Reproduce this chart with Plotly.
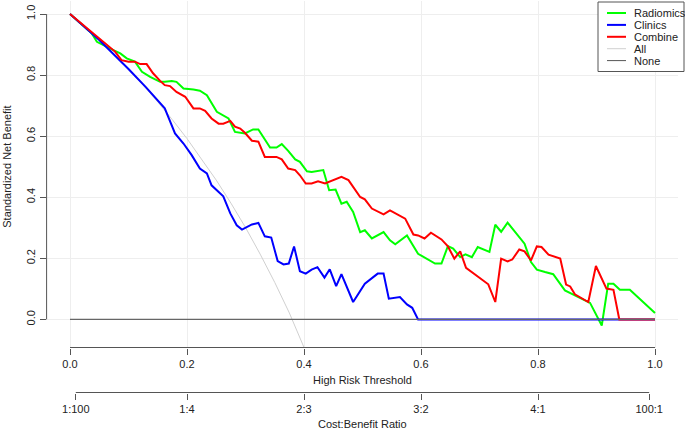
import plotly.graph_objects as go

# ---- data ----
radiomics_t = [0, 0.030, 0.037, 0.046, 0.066, 0.074, 0.086, 0.097, 0.111, 0.123, 0.137, 0.154, 0.162, 0.174, 0.182,
               0.194, 0.211, 0.222, 0.234, 0.251, 0.271, 0.282, 0.299, 0.313, 0.322, 0.342, 0.353, 0.362, 0.373,
               0.385, 0.393, 0.405, 0.413, 0.433, 0.443, 0.454, 0.464, 0.473, 0.484, 0.496, 0.504, 0.516, 0.536,
               0.547, 0.556, 0.576, 0.595, 0.624, 0.635, 0.646, 0.655, 0.667, 0.676, 0.687, 0.697, 0.717, 0.727,
               0.737, 0.748, 0.777, 0.788, 0.798, 0.812, 0.826, 0.846, 0.866, 0.889, 0.909, 0.920, 0.929, 0.940,
               0.957, 1.0]
radiomics_v = [1.0, 0.950, 0.937, 0.909, 0.888, 0.882, 0.871, 0.855, 0.844, 0.811, 0.794, 0.778, 0.778, 0.781, 0.778,
               0.756, 0.753, 0.749, 0.734, 0.680, 0.658, 0.614, 0.609, 0.622, 0.622, 0.563, 0.563, 0.574, 0.552,
               0.524, 0.516, 0.485, 0.483, 0.489, 0.423, 0.425, 0.379, 0.385, 0.352, 0.286, 0.292, 0.265, 0.286,
               0.259, 0.246, 0.275, 0.215, 0.183, 0.183, 0.240, 0.232, 0.204, 0.213, 0.204, 0.237, 0.221, 0.310,
               0.287, 0.317, 0.248, 0.188, 0.163, 0.155, 0.148, 0.095, 0.075, 0.054, -0.020, 0.117, 0.117, 0.097,
               0.097, 0.021]

clinics_t = [0, 0.05, 0.10, 0.13, 0.162, 0.1795, 0.194, 0.208, 0.222, 0.234, 0.242, 0.254, 0.262, 0.274, 0.285,
             0.294, 0.311, 0.322, 0.333, 0.344, 0.355, 0.365, 0.374, 0.383, 0.393, 0.403, 0.413, 0.423, 0.435,
             0.444, 0.455, 0.464, 0.484, 0.504, 0.526, 0.536, 0.545, 0.564, 0.576, 0.585, 0.595, 1.0]
clinics_v = [1.0, 0.915, 0.820, 0.760, 0.691, 0.609, 0.576, 0.538, 0.494, 0.478, 0.439, 0.417, 0.403, 0.347, 0.308,
             0.294, 0.311, 0.316, 0.272, 0.268, 0.191, 0.180, 0.183, 0.239, 0.158, 0.150, 0.163, 0.171, 0.137,
             0.164, 0.109, 0.148, 0.057, 0.117, 0.150, 0.150, 0.068, 0.073, 0.049, 0.038, 0.0, 0.0]

combine_t = [0, 0.066, 0.077, 0.088, 0.100, 0.111, 0.120, 0.131, 0.142, 0.154, 0.162, 0.171, 0.182, 0.197, 0.211,
             0.222, 0.231, 0.242, 0.254, 0.262, 0.274, 0.282, 0.291, 0.299, 0.311, 0.322, 0.333, 0.353, 0.362,
             0.373, 0.385, 0.393, 0.403, 0.413, 0.424, 0.436, 0.450, 0.464, 0.476, 0.496, 0.504, 0.516, 0.536,
             0.547, 0.573, 0.587, 0.595, 0.606, 0.617, 0.635, 0.646, 0.657, 0.667, 0.677, 0.715, 0.727, 0.737,
             0.748, 0.756, 0.768, 0.777, 0.788, 0.798, 0.806, 0.818, 0.838, 0.848, 0.855, 0.863, 0.886, 0.899,
             0.917, 0.929, 0.939, 1.0]
combine_v = [1.0, 0.893, 0.877, 0.849, 0.844, 0.844, 0.836, 0.836, 0.806, 0.781, 0.767, 0.764, 0.745, 0.729, 0.691,
             0.691, 0.683, 0.658, 0.641, 0.641, 0.650, 0.631, 0.625, 0.611, 0.585, 0.582, 0.532, 0.532, 0.524,
             0.494, 0.489, 0.472, 0.445, 0.445, 0.452, 0.445, 0.456, 0.467, 0.456, 0.401, 0.393, 0.363, 0.344,
             0.357, 0.330, 0.278, 0.275, 0.265, 0.284, 0.262, 0.239, 0.199, 0.223, 0.169, 0.115, 0.057, 0.199,
             0.190, 0.196, 0.229, 0.223, 0.193, 0.239, 0.237, 0.212, 0.199, 0.114, 0.108, 0.082, 0.057, 0.175,
             0.101, 0.097, 0.0, 0.0]

all_t = [0, 0.025, 0.05, 0.075, 0.10, 0.125, 0.15, 0.175, 0.20, 0.225, 0.25, 0.275, 0.30, 0.325, 0.35, 0.375,
         0.40, 0.42]
all_v = [1.0, 0.958, 0.914, 0.868, 0.819, 0.767, 0.712, 0.654, 0.592, 0.526, 0.456, 0.381, 0.301, 0.214, 0.121,
         0.021, -0.088, -0.182]

none_t = [0, 1.0]
none_v = [0, 0]

x_tick_vals = [0, 0.2, 0.4, 0.6, 0.8, 1.0]
x_tick_text = ["0.0", "0.2", "0.4", "0.6", "0.8", "1.0"]
cb_tick_vals = [1 / 101, 0.2, 0.4, 0.6, 0.8, 100 / 101]
cb_tick_text = ["1:100", "1:4", "2:3", "3:2", "4:1", "100:1"]
y_tick_vals = [0, 0.2, 0.4, 0.6, 0.8, 1.0]
y_tick_text = ["0.0", "0.2", "0.4", "0.6", "0.8", "1.0"]

legend_names = ["Radiomics", "Clinics", "Combine", "All", "None"]
legend_colors = ["#00FF00", "#0000FF", "#FF0000", "#D0D0D0", "#555555"]
legend_widths = [2, 2, 2, 1, 1]

FONT = "Liberation Sans, Arial, Helvetica, sans-serif"
AX = "#555555"
TXT = "#222222"
W, H = 685.0, 431.0


def px(xp):
    return xp / W


def py(yp):
    return (H - yp) / H


fig = go.Figure()
fig.add_trace(go.Scatter(x=none_t, y=none_v, mode="lines", name="None", xaxis="x2",
                         line=dict(color="#666666", width=1.2)))
fig.add_trace(go.Scatter(x=all_t, y=all_v, mode="lines", name="All",
                         line=dict(color="#D0D0D0", width=1)))
fig.add_trace(go.Scatter(x=radiomics_t, y=radiomics_v, mode="lines", name="Radiomics",
                         line=dict(color="#00FF00", width=2)))
fig.add_trace(go.Scatter(x=clinics_t, y=clinics_v, mode="lines", name="Clinics",
                         line=dict(color="#0000FF", width=2)))
fig.add_trace(go.Scatter(x=combine_t, y=combine_v, mode="lines", name="Combine",
                         line=dict(color="#FF0000", width=2)))

ybot = py(347.5)
ytop = py(1.2)
cbpos = py(392.5)
xr = [-0.04, 1.04]

shapes = [
    dict(type="line", xref="x", yref="paper", x0=0, x1=1, y0=ybot, y1=ybot,
         line=dict(color=AX, width=1)),
    dict(type="line", xref="x", yref="paper", x0=1 / 101, x1=100 / 101, y0=cbpos, y1=cbpos,
         line=dict(color=AX, width=1)),
    dict(type="line", xref="paper", yref="y", x0=px(46.6), x1=px(46.6), y0=0, y1=1,
         line=dict(color=AX, width=1)),
    # legend box
    dict(type="rect", xref="paper", yref="paper", x0=px(598), x1=px(684), y0=py(71.5), y1=py(2),
         line=dict(color=AX, width=1), fillcolor="white", layer="above"),
]
annotations = [
    dict(text="High Risk Threshold", xref="x", yref="paper", x=0.5, y=py(380), showarrow=False,
         xanchor="center", yanchor="middle", font=dict(size=11, color=TXT)),
    dict(text="Cost:Benefit Ratio", xref="x", yref="paper", x=0.5, y=py(424), showarrow=False,
         xanchor="center", yanchor="middle", font=dict(size=11, color=TXT)),
    dict(text="Standardized Net Benefit", xref="paper", yref="y", x=px(7), y=0.5, showarrow=False,
         xanchor="center", yanchor="middle", textangle=-90, font=dict(size=11, color=TXT)),
]
for i, (nm, col, lw) in enumerate(zip(legend_names, legend_colors, legend_widths)):
    yy = 13 + 11.9 * i
    shapes.append(dict(type="line", xref="paper", yref="paper", x0=px(607), x1=px(626),
                       y0=py(yy), y1=py(yy), line=dict(color=col, width=lw), layer="above"))
    annotations.append(dict(text=nm, xref="paper", yref="paper", x=px(632), y=py(yy), showarrow=False,
                            xanchor="left", yanchor="middle", font=dict(size=11, color=TXT)))

fig.update_layout(
    width=685, height=431,
    margin=dict(l=0, r=0, t=0, b=0, autoexpand=False),
    paper_bgcolor="white", plot_bgcolor="white",
    font=dict(family=FONT, size=11, color=TXT),
    showlegend=False,
    hovermode=False,
    xaxis=dict(range=xr, domain=[px(46.6), px(678.4)], anchor="y", tickvals=x_tick_vals,
               ticktext=x_tick_text, ticks="outside", ticklen=6, tickcolor=AX, tickwidth=1,
               showline=False, showgrid=True, gridcolor="#EEEEEE", gridwidth=1, zeroline=False,
               tickfont=dict(size=11, color=TXT), automargin=False),
    xaxis2=dict(range=xr, domain=[px(46.6), px(678.4)], overlaying="x", anchor="free", position=cbpos,
                side="bottom", tickvals=cb_tick_vals, ticktext=cb_tick_text, ticks="outside", ticklen=6,
                tickcolor=AX, tickwidth=1, showline=False, showgrid=False, zeroline=False,
                tickfont=dict(size=11, color=TXT), automargin=False),
    yaxis=dict(range=[-0.092, 1.042], domain=[ybot, ytop], anchor="x", tickvals=y_tick_vals,
               ticktext=y_tick_text, tickangle=-90, ticks="outside", ticklen=6, tickcolor=AX,
               tickwidth=1, showline=False, showgrid=True, gridcolor="#EEEEEE", gridwidth=1,
               zeroline=False, tickfont=dict(size=11, color=TXT), automargin=False),
    shapes=shapes,
    annotations=annotations,
)

fig.write_html("out.html",
               config={"displayModeBar": False, "staticPlot": True},
               post_script="document.body.style.margin='0px';document.body.style.padding='0px';"
                           "document.documentElement.style.overflow='hidden';")
